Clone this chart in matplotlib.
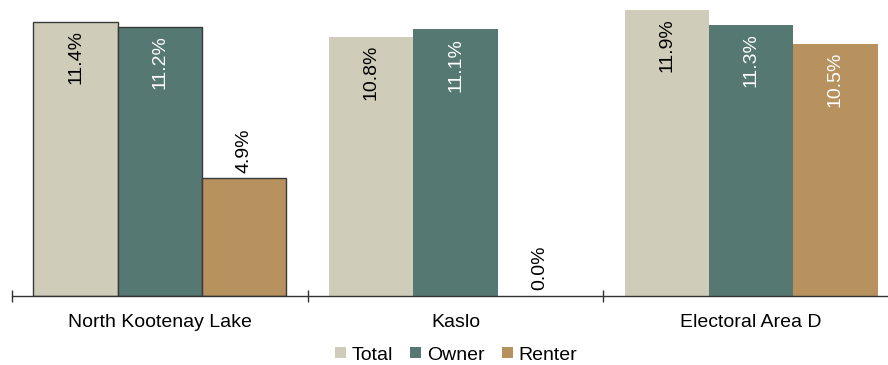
import matplotlib.pyplot as plt
import numpy as np
from matplotlib.patches import Patch

plt.rcParams['font.family'] = ['Liberation Sans', 'DejaVu Sans']

# Data
categories = ['North Kootenay Lake', 'Kaslo', 'Electoral Area D']
total = [11.4, 10.8, 11.9]
owner = [11.2, 11.1, 11.3]
renter = [4.9, 0.0, 10.5]

c_total = '#CFCDB9'
c_owner = '#557873'
c_renter = '#B8925E'

fig = plt.figure(figsize=(8.88, 3.65), dpi=100)
W, H = 888, 365
ax = fig.add_axes([12 / W, 69 / H, 887 / W, 296 / H])

x = np.arange(len(categories))
bw = 0.285
series = [(total, c_total, 'Total', 'black'),
          (owner, c_owner, 'Owner', 'white'),
          (renter, c_renter, 'Renter', 'white')]

for i, (vals, col, name, tcol) in enumerate(series):
    xs = x + (i - 1) * bw
    # only the first group has outlined bars in the original
    edges = ['#3a3a3a', 'none', 'none']
    for j in range(len(vals)):
        ax.bar(xs[j], vals[j], width=bw, color=col, edgecolor=edges[j],
               linewidth=1.0 if j == 0 else 0)
        lbl = f'{vals[j]:.1f}%'
        if vals[j] > 6:
            ax.annotate(lbl, (xs[j], vals[j]), xytext=(0, -6), textcoords='offset points',
                        rotation=90, ha='center', va='top', fontsize=14, color=tcol)
        else:
            ax.annotate(lbl, (xs[j], vals[j]), xytext=(0, 4), textcoords='offset points',
                        rotation=90, ha='center', va='bottom', fontsize=14, color='black')

ax.set_xlim(-0.5, 2.5)
ax.set_ylim(0, 12.32)
ax.set_yticks([])
ax.set_xticks(x)
ax.set_xticklabels(categories, fontsize=14)
ax.tick_params(axis='x', which='major', length=0, pad=13)
ax.set_xticks([-0.5, 0.5, 1.5], minor=True)
ax.tick_params(axis='x', which='minor', length=8, direction='inout', width=1, color='#333333')

for s in ['top', 'right', 'left']:
    ax.spines[s].set_visible(False)
ax.spines['bottom'].set_color('#333333')
ax.spines['bottom'].set_linewidth(1.0)

handles = [Patch(facecolor=c, edgecolor='none', label=n) for _, c, n, _ in series]
fig.legend(handles=handles, loc='center', bbox_to_anchor=(456 / W, 1 - 355 / H),
           ncol=3, frameon=False, fontsize=14, handlelength=0.55, handleheight=0.55,
           handletextpad=0.3, columnspacing=0.9)

fig.savefig('out.png', dpi=100)
